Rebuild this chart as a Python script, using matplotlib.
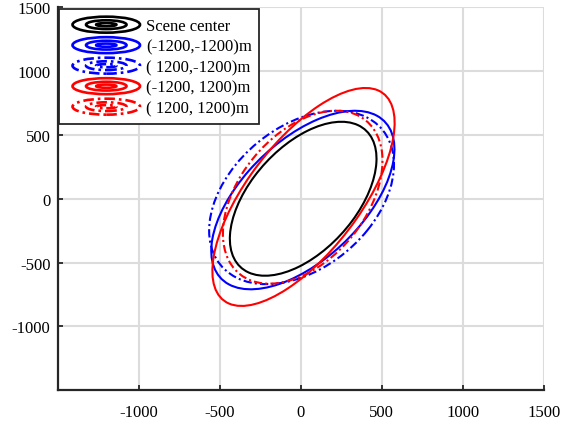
import matplotlib
matplotlib.use("Agg")
import matplotlib.pyplot as plt
from matplotlib.patches import Ellipse
from matplotlib.legend_handler import HandlerBase

# -3 dB contours of the focused point targets
labels = ["Scene center", "(-1200,-1200)m", "( 1200,-1200)m",
          "(-1200, 1200)m", "( 1200, 1200)m"]
center_x = [15, 13, 5, 17, 12]
center_y = [0, -10, 10, 14, 12]
major_len = [1338, 1607, 1492, 1908, 1454]
minor_len = [697, 809, 961, 738, 833]
tilt_deg = [59.7, 55.4, 57.5, 61.2, 63.9]
colors = ["black", "blue", "blue", "red", "red"]
styles = ["-", "-", "-.", "-", "-."]

ticks = [-1000, -500, 0, 500, 1000, 1500]

plt.rcParams["font.family"] = ["Liberation Serif", "DejaVu Serif"]
plt.rcParams["axes.unicode_minus"] = False
dash_dot = (0, (4.0, 1.5, 1.0, 1.5))


class ContourHandler(HandlerBase):
    """Legend icon: three nested ellipses like a contour plot."""

    def create_artists(self, legend, orig_handle, xdescent, ydescent,
                       width, height, fontsize, trans):
        shift = 0.35 * fontsize
        w = width - shift
        cx = shift + w / 2 - xdescent
        cy = height / 2 - ydescent
        out = []
        for sw, sh in [(1.0, 1.0), (0.6, 0.55), (0.3, 0.2)]:
            out.append(Ellipse((cx, cy), w * sw, height * sh, fill=False,
                               edgecolor=orig_handle.get_edgecolor(),
                               linestyle=orig_handle.get_linestyle(),
                               linewidth=1.9, transform=trans))
        return out


fig = plt.figure(figsize=(5.65, 4.27), dpi=100)
ax = fig.add_axes([0.1018, 0.0843, 0.861, 0.8958])

handles = []
for i in range(len(labels)):
    ls = dash_dot if styles[i] == "-." else "-"
    e = Ellipse((center_x[i], center_y[i]), major_len[i], minor_len[i],
                angle=tilt_deg[i], fill=False, edgecolor=colors[i],
                linestyle=ls, linewidth=1.5, zorder=3)
    ax.add_patch(e)
    handles.append(e)

ax.set_xlim(-1500, 1500)
ax.set_ylim(-1500, 1500)
ax.set_xticks(ticks)
ax.set_yticks(ticks)
ax.grid(True, color="#dcdcdc", linewidth=1.5, zorder=0)
ax.set_axisbelow(True)
for side in ["top", "right"]:
    ax.spines[side].set_visible(False)
for side in ["left", "bottom"]:
    ax.spines[side].set_linewidth(1.6)
    ax.spines[side].set_color("#262626")
ax.tick_params(direction="in", length=3.5, width=1.3, labelsize=12,
               color="#262626")
ax.tick_params(axis="x", pad=10)
ax.tick_params(axis="y", pad=5)

leg = ax.legend(handles, labels, loc="upper left", bbox_to_anchor=(0, 1),
                borderaxespad=0.1, handler_map={Ellipse: ContourHandler()},
                handlelength=4.4, handleheight=1.1, handletextpad=0.35,
                labelspacing=0.17, borderpad=0.45, fontsize=12,
                fancybox=False, framealpha=1)
leg.get_frame().set_edgecolor("#262626")
leg.get_frame().set_linewidth(1.3)

fig.savefig("out.png", dpi=100)
